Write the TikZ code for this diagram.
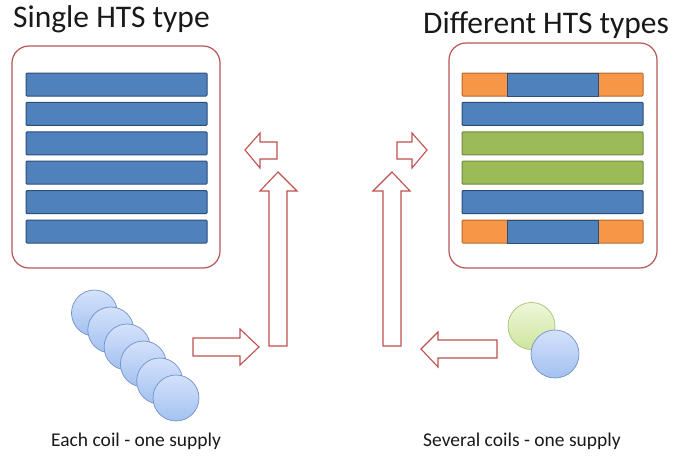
\documentclass[tikz,border=0pt]{standalone}
\usepackage{fontspec}
\setmainfont{Carlito}
\definecolor{boxred}{RGB}{185,84,84}
\definecolor{arrred}{RGB}{192,80,77}
\definecolor{barblue}{RGB}{79,129,189}
\definecolor{barblueD}{RGB}{44,77,117}
\definecolor{bargreen}{RGB}{155,187,89}
\definecolor{bargreenD}{RGB}{113,137,63}
\definecolor{barorange}{RGB}{247,150,70}
\definecolor{barorangeD}{RGB}{182,105,45}
\definecolor{coilT}{RGB}{212,226,251}
\definecolor{coilB}{RGB}{163,193,240}
\definecolor{coilD}{RGB}{115,145,200}
\definecolor{gcoilT}{RGB}{238,247,218}
\definecolor{gcoilB}{RGB}{205,229,158}
\definecolor{gcoilD}{RGB}{165,195,115}
\definecolor{txt}{RGB}{25,25,25}
\begin{document}
\begin{tikzpicture}[x=1pt,y=-1pt,
  frame/.style={draw=boxred, line width=1.2pt, rounded corners=17pt, fill=white},
  bar/.style={line width=1pt, rounded corners=1pt},
  bluebar/.style={bar, fill=barblue, draw=barblueD},
  greenbar/.style={bar, fill=bargreen, draw=bargreenD},
  orangebar/.style={bar, fill=barorange, draw=barorangeD},
  barrow/.style={draw=arrred, line width=1.1pt, fill=white, line join=miter},
  coil/.style={circle, minimum size=46pt, inner sep=0pt, draw=coilD, line width=0.7pt, top color=coilT, bottom color=coilB},
  gcoil/.style={circle, minimum size=47pt, inner sep=0pt, draw=gcoilD, line width=0.7pt, top color=gcoilT, bottom color=gcoilB},
  title/.style={anchor=base west, inner sep=0pt, text=txt, font=\fontsize{31.5}{36}\selectfont},
  caption/.style={anchor=base west, inner sep=0pt, text=txt, font=\fontsize{19.5}{22}\selectfont}
]
\useasboundingbox (0,0) rectangle (674,456);

% titles
\node[title] (t1) at (13,27) {Single HTS type};
\node[title] (t2) at (423,33) {Different HTS types};

% frames
\draw[frame] (12,46) rectangle (220,268);
\draw[frame] (449,43) rectangle (657,268);

% left bars
\foreach \i in {0,...,5}{
  \draw[bluebar] (26,{73+29.4*\i}) rectangle (207,{96+29.4*\i});
}
% right bars
\foreach \i/\s in {1/bluebar,2/greenbar,3/greenbar,4/bluebar}{
  \draw[\s] (462,{73+29.4*\i}) rectangle (643,{96+29.4*\i});
}
\foreach \i in {0,5}{
  \draw[orangebar] (462,{73+29.4*\i}) rectangle (643,{96+29.4*\i});
  \draw[bluebar, rounded corners=0pt] (507,{73+29.4*\i}) rectangle (598,{96+29.4*\i});
}

% block arrows
\draw[barrow] (245,150) -- (260,133) -- (260,142) -- (277,142) -- (277,159) -- (260,159) -- (260,168) -- cycle;
\draw[barrow] (427,150) -- (412,133) -- (412,142) -- (397,142) -- (397,159) -- (412,159) -- (412,168) -- cycle;
\draw[barrow] (278,172) -- (297,191) -- (287,191) -- (287,346) -- (269,346) -- (269,191) -- (260,191) -- cycle;
\draw[barrow] (392,172) -- (410,191) -- (401,191) -- (401,346) -- (383,346) -- (383,191) -- (373,191) -- cycle;
\draw[barrow] (259,347) -- (240,329) -- (240,338) -- (193,338) -- (193,356) -- (240,356) -- (240,365) -- cycle;
\draw[barrow] (421,349) -- (438,332) -- (438,340) -- (497,340) -- (497,358) -- (438,358) -- (438,367) -- cycle;

% coils, left
\foreach \i in {0,...,5}{
  \node[coil] (c\i) at ({94.5+16.3*\i},{313+17*\i}) {};
}
% coils, right
\node[gcoil] (g1) at (531.5,326) {};
\node[coil, minimum size=48pt] (g2) at (555,354) {};

% captions
\node[caption] (cap1) at (51,446) {Each coil - one supply};
\node[caption] (cap2) at (423,446) {Several coils - one supply};
\end{tikzpicture}
\end{document}
